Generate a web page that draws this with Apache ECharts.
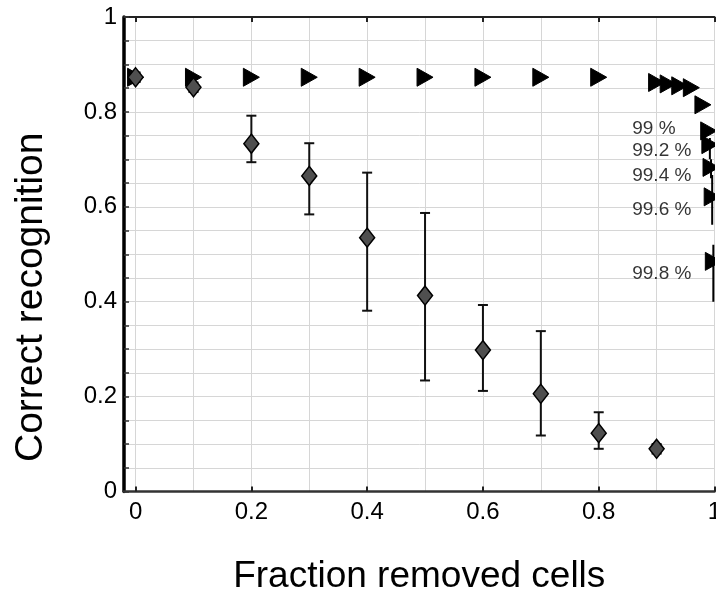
<!DOCTYPE html>
<html>
<head>
<meta charset="utf-8">
<script src="https://cdn.jsdelivr.net/npm/echarts@6/dist/echarts.min.js"></script>
<style>
html,body{margin:0;padding:0;background:#fff;}
#chart{width:716px;height:593px;}
</style>
</head>
<body>
<div id="chart"></div>
<script>
// ---- data ----
var diamondX = [0, 0.1, 0.2, 0.3, 0.4, 0.5, 0.6, 0.7, 0.8, 0.9];
var diamondY = [0.873, 0.852, 0.733, 0.665, 0.535, 0.413, 0.298, 0.206, 0.123, 0.090];
var diamondLow = [0.863, 0.842, 0.694, 0.584, 0.381, 0.234, 0.212, 0.118, 0.090, 0.080];
var diamondHigh = [0.883, 0.862, 0.792, 0.734, 0.672, 0.587, 0.393, 0.338, 0.167, 0.100];

var triX = [0, 0.1, 0.2, 0.3, 0.4, 0.5, 0.6, 0.7, 0.8, 0.9, 0.92, 0.94, 0.96, 0.98, 0.99, 0.992, 0.994, 0.996, 0.998];
var triY = [0.873, 0.873, 0.873, 0.873, 0.873, 0.873, 0.873, 0.873, 0.873, 0.862, 0.859, 0.855, 0.851, 0.815, 0.760, 0.731, 0.683, 0.621, 0.485];
var triErrX = [0.992, 0.994, 0.996, 0.998];
var triErrLow = [0.700, 0.660, 0.562, 0.400];
var triErrHigh = [0.745, 0.700, 0.667, 0.520];

var noteTexts = ['99 %', '99.2 %', '99.4 %', '99.6 %', '99.8 %'];
var noteX = [0.857, 0.857, 0.857, 0.857, 0.857];
var noteY = [0.7655, 0.719, 0.666, 0.594, 0.459];

var xTickLabels = ['0', '0.2', '0.4', '0.6', '0.8', '1'];
var yTickLabels = ['0', '0.2', '0.4', '0.6', '0.8', '1'];

var xTitle = 'Fraction removed cells';
var yTitle = 'Correct recognition';

// ---- chart ----
var FONT = 'Liberation Sans, Arial, sans-serif';
var chart = echarts.init(document.getElementById('chart'), null, {renderer: 'canvas'});

function tickLabel(list) {
  return function (v) {
    var i = Math.round(v / 0.2);
    if (Math.abs(v - i * 0.2) < 1e-6) return list[i];
    return '';
  };
}

var gridTop = 17, gridBottom = 101.5, gridRight = 1.5;

var option = {
  animation: false,
  backgroundColor: '#fff',
  grid: [
    {left: 124, right: gridRight, top: gridTop, bottom: gridBottom, containLabel: false, outerBoundsMode: 'none'},
    {left: 135.6, right: gridRight, top: gridTop, bottom: gridBottom, containLabel: false, outerBoundsMode: 'none'}
  ],
  xAxis: [
    { // data axis
      gridIndex: 0, type: 'value', min: -0.02, max: 1, position: 'bottom',
      axisLine: {show: true, onZero: false, lineStyle: {color: '#333', width: 2.5}},
      axisTick: {show: false}, axisLabel: {show: false}, splitLine: {show: false},
      name: xTitle, nameLocation: 'middle', nameGap: 67,
      nameTextStyle: {fontFamily: FONT, fontSize: 37, color: '#000'}
    },
    { // vertical grid lines
      gridIndex: 1, type: 'value', min: 0, max: 1, interval: 0.1, position: 'bottom',
      axisLine: {show: false}, axisTick: {show: false}, axisLabel: {show: false},
      splitLine: {show: true, lineStyle: {color: '#d6d6d6', width: 1}}
    },
    { // bottom ticks and labels
      gridIndex: 1, type: 'value', min: 0, max: 1, interval: 0.2, position: 'bottom',
      axisLine: {show: false},
      axisTick: {show: true, inside: true, length: 5, lineStyle: {color: '#222', width: 2}},
      axisLabel: {show: true, margin: 9, fontFamily: FONT, fontSize: 24, color: '#000', formatter: tickLabel(xTickLabels)},
      splitLine: {show: false}
    },
    { // top ticks
      gridIndex: 1, type: 'value', min: 0, max: 1, interval: 0.2, position: 'top',
      axisLine: {show: false},
      axisTick: {show: true, inside: true, length: 5, lineStyle: {color: '#222', width: 2}},
      axisLabel: {show: false}, splitLine: {show: false}
    },
    { // top frame line
      gridIndex: 0, type: 'value', min: -0.02, max: 1, position: 'top',
      axisLine: {show: true, onZero: false, lineStyle: {color: '#222', width: 2}},
      axisTick: {show: false}, axisLabel: {show: false}, splitLine: {show: false}
    }
  ],
  yAxis: [
    {
      gridIndex: 0, type: 'value', min: 0, max: 1, interval: 0.05, position: 'left',
      axisLine: {show: true, onZero: false, lineStyle: {color: '#000', width: 3.5}},
      axisTick: {show: true, inside: true, length: 5, lineStyle: {color: '#333', width: 1.5}},
      axisLabel: {show: true, margin: 7, fontFamily: FONT, fontSize: 24, color: '#000', formatter: tickLabel(yTickLabels)},
      splitLine: {show: true, lineStyle: {color: '#d6d6d6', width: 1}},
      name: yTitle, nameLocation: 'middle', nameGap: 73, nameRotate: 90,
      nameTextStyle: {fontFamily: FONT, fontSize: 39, color: '#000', padding: [0, 86, 0, 0]}
    },
    {
      gridIndex: 1, type: 'value', min: 0, max: 1, show: false
    }
  ],
  series: [
    { // triangle error bars
      type: 'custom', xAxisIndex: 0, yAxisIndex: 0, clip: true, z: 3,
      data: triErrX.map(function (x, i) { return [x, triErrLow[i], triErrHigh[i]]; }),
      renderItem: function (params, api) {
        var a = api.coord([api.value(0), api.value(1)]);
        var b = api.coord([api.value(0), api.value(2)]);
        return {type: 'line', shape: {x1: a[0], y1: a[1], x2: b[0], y2: b[1]},
          style: {stroke: '#000', lineWidth: 2}};
      }
    },
    { // triangles
      type: 'custom', xAxisIndex: 0, yAxisIndex: 0, clip: true, z: 4,
      data: triX.map(function (x, i) { return [x, triY[i]]; }),
      renderItem: function (params, api) {
        var p = api.coord([api.value(0), api.value(1)]);
        return {type: 'polygon',
          shape: {points: [[p[0] - 8, p[1] - 9], [p[0] + 8, p[1]], [p[0] - 8, p[1] + 9]]},
          style: {fill: '#000', stroke: '#000', lineWidth: 1}};
      }
    },
    { // diamond error bars
      type: 'custom', xAxisIndex: 0, yAxisIndex: 0, clip: false, z: 5,
      data: diamondX.map(function (x, i) { return [x, diamondLow[i], diamondHigh[i]]; }),
      renderItem: function (params, api) {
        var a = api.coord([api.value(0), api.value(1)]);
        var b = api.coord([api.value(0), api.value(2)]);
        var st = {stroke: '#111', lineWidth: 2};
        return {type: 'group', children: [
          {type: 'line', shape: {x1: a[0], y1: a[1], x2: b[0], y2: b[1]}, style: st},
          {type: 'line', shape: {x1: a[0] - 5, y1: a[1], x2: a[0] + 5, y2: a[1]}, style: st},
          {type: 'line', shape: {x1: b[0] - 5, y1: b[1], x2: b[0] + 5, y2: b[1]}, style: st}
        ]};
      }
    },
    { // diamonds
      type: 'scatter', xAxisIndex: 0, yAxisIndex: 0, z: 6,
      symbol: 'diamond', symbolSize: [15, 19],
      itemStyle: {color: '#4f4f4f', borderColor: '#000', borderWidth: 1.5, opacity: 1},
      data: diamondX.map(function (x, i) { return [x, diamondY[i]]; })
    },
    { // percentage notes
      type: 'scatter', xAxisIndex: 0, yAxisIndex: 0, z: 7,
      symbol: 'circle', symbolSize: 1, itemStyle: {color: 'rgba(0,0,0,0)'},
      label: {show: true, position: 'right', distance: 0, fontFamily: FONT, fontSize: 19, color: '#000',
        formatter: function (p) { return p.name; }},
      labelLayout: {hideOverlap: false},
      data: noteTexts.map(function (t, i) { return {name: t, value: [noteX[i], noteY[i]]}; })
    }
  ]
};
chart.setOption(option);
</script>
</body>
</html>
